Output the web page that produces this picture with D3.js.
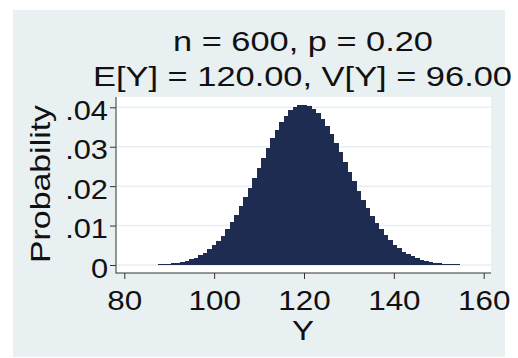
<html>
<head>
<script src="https://d3js.org/d3.v7.min.js"></script>
<style>
  body { margin: 0; background: #fff; }
  text { font-family: "Liberation Sans", Arial, sans-serif; fill: #111; }
</style>
</head>
<body>
<div id="chart"></div>
<script>
// binomial n = 600, p = 0.20
const ks = [87, 88, 89, 90, 91, 92, 93, 94, 95, 96, 97, 98, 99, 100, 101, 102, 103, 104, 105, 106,
  107, 108, 109, 110, 111, 112, 113, 114, 115, 116, 117, 118, 119, 120, 121, 122, 123, 124, 125, 126,
  127, 128, 129, 130, 131, 132, 133, 134, 135, 136, 137, 138, 139, 140, 141, 142, 143, 144, 145, 146,
  147, 148, 149, 150, 151, 152, 153, 154];
const probs = [.00010, .00015, .00021, .00030, .00042, .00059, .00079, .00107, .00143, .00188,
  .00243, .00312, .00396, .00495, .00612, .00748, .00904, .01079, .01274, .01487,
  .01717, .01959, .02211, .02468, .02725, .02975, .03212, .03431, .03626, .03790,
  .03921, .04012, .04064, .04070, .04038, .03964, .03851, .03702, .03524, .03321,
  .03098, .02861, .02617, .02370, .02125, .01887, .01661, .01447, .01248, .01067,
  .00904, .00758, .00630, .00519, .00424, .00342, .00275, .00218, .00171, .00133,
  .00103, .00079, .00060, .00046, .00033, .00025, .00018, .00013];
const xTicks = [80, 100, 120, 140, 160];
const yTicks = [0, .01, .02, .03, .04];
const titleLines = ["n = 600, p = 0.20", "E[Y] = 120.00, V[Y] = 96.00"];

const svg = d3.select("#chart").append("svg")
  .attr("width", 518).attr("height", 358);

// outer graph region
svg.append("rect").attr("x", 13).attr("y", 10).attr("width", 492).attr("height", 347)
  .attr("fill", "#e9f0f2");

const plot = { left: 116, right: 491, top: 97, bottom: 273 };
svg.append("rect").attr("x", plot.left).attr("y", plot.top)
  .attr("width", plot.right - plot.left).attr("height", plot.bottom - plot.top)
  .attr("fill", "#fff");

const x = d3.scaleLinear().domain([80, 160]).range([124.3, 483.7]);
const y = d3.scaleLinear().domain([0, .04]).range([265, 107.3]);

// gridlines
svg.append("g").selectAll("line").data(yTicks).join("line")
  .attr("x1", plot.left + 1).attr("x2", plot.right)
  .attr("y1", d => y(d)).attr("y2", d => y(d))
  .attr("stroke", "#e6eff2").attr("stroke-width", 1.5);

// bars (slight overlap so no seams show between neighbours)
svg.append("g").attr("shape-rendering", "crispEdges")
  .selectAll("rect").data(ks).join("rect")
  .attr("x", d => x(d - 0.5))
  .attr("width", d => x(d + 0.5) - x(d - 0.5) + 1)
  .attr("y", (d, i) => y(probs[i]))
  .attr("height", (d, i) => y(0) - y(probs[i]))
  .attr("fill", "#1f2c52");

// axes
const fmtY = d => d === 0 ? "0" : d.toFixed(2).replace(/^0/, "");

const xAxis = svg.append("g").attr("transform", `translate(0,${plot.bottom})`)
  .call(d3.axisBottom(x).tickValues(xTicks).tickSize(6).tickFormat(d3.format("d")));
xAxis.select(".domain").remove();
xAxis.selectAll("line").attr("stroke", "#333");
xAxis.selectAll("text")
  .attr("y", 36.5).attr("dy", 0)
  .style("font-size", "28px")
  .attr("textLength", function() { return this.getComputedTextLength() * 1.12; })
  .attr("lengthAdjust", "spacingAndGlyphs");

const yAxis = svg.append("g").attr("transform", `translate(${plot.left},0)`)
  .call(d3.axisLeft(y).tickValues(yTicks).tickSize(6).tickFormat(fmtY));
yAxis.select(".domain").remove();
yAxis.selectAll("line").attr("stroke", "#333");
yAxis.selectAll("text")
  .attr("x", -8).attr("dy", 12)
  .style("font-size", "28px")
  .attr("textLength", function() { return this.getComputedTextLength() * 1.1; })
  .attr("lengthAdjust", "spacingAndGlyphs");

svg.append("line").attr("x1", plot.left).attr("x2", plot.left)
  .attr("y1", plot.top).attr("y2", plot.bottom + 0.5).attr("stroke", "#333");
svg.append("line").attr("x1", plot.left).attr("x2", plot.right)
  .attr("y1", plot.bottom).attr("y2", plot.bottom).attr("stroke", "#333");

// titles
svg.append("text").attr("x", 303).attr("y", 51).attr("text-anchor", "middle")
  .style("font-size", "28px").attr("textLength", 260).attr("lengthAdjust", "spacingAndGlyphs")
  .text(titleLines[0]);
svg.append("text").attr("x", 302.5).attr("y", 86).attr("text-anchor", "middle")
  .style("font-size", "28px").attr("textLength", 419).attr("lengthAdjust", "spacingAndGlyphs")
  .text(titleLines[1]);

svg.append("text").attr("x", 303).attr("y", 340).attr("text-anchor", "middle")
  .style("font-size", "28px").attr("textLength", 22).attr("lengthAdjust", "spacingAndGlyphs")
  .text("Y");
svg.append("text").attr("transform", "translate(50,184) rotate(-90)").attr("text-anchor", "middle")
  .style("font-size", "28px").attr("textLength", 158).attr("lengthAdjust", "spacingAndGlyphs")
  .text("Probability");
</script>
</body>
</html>
